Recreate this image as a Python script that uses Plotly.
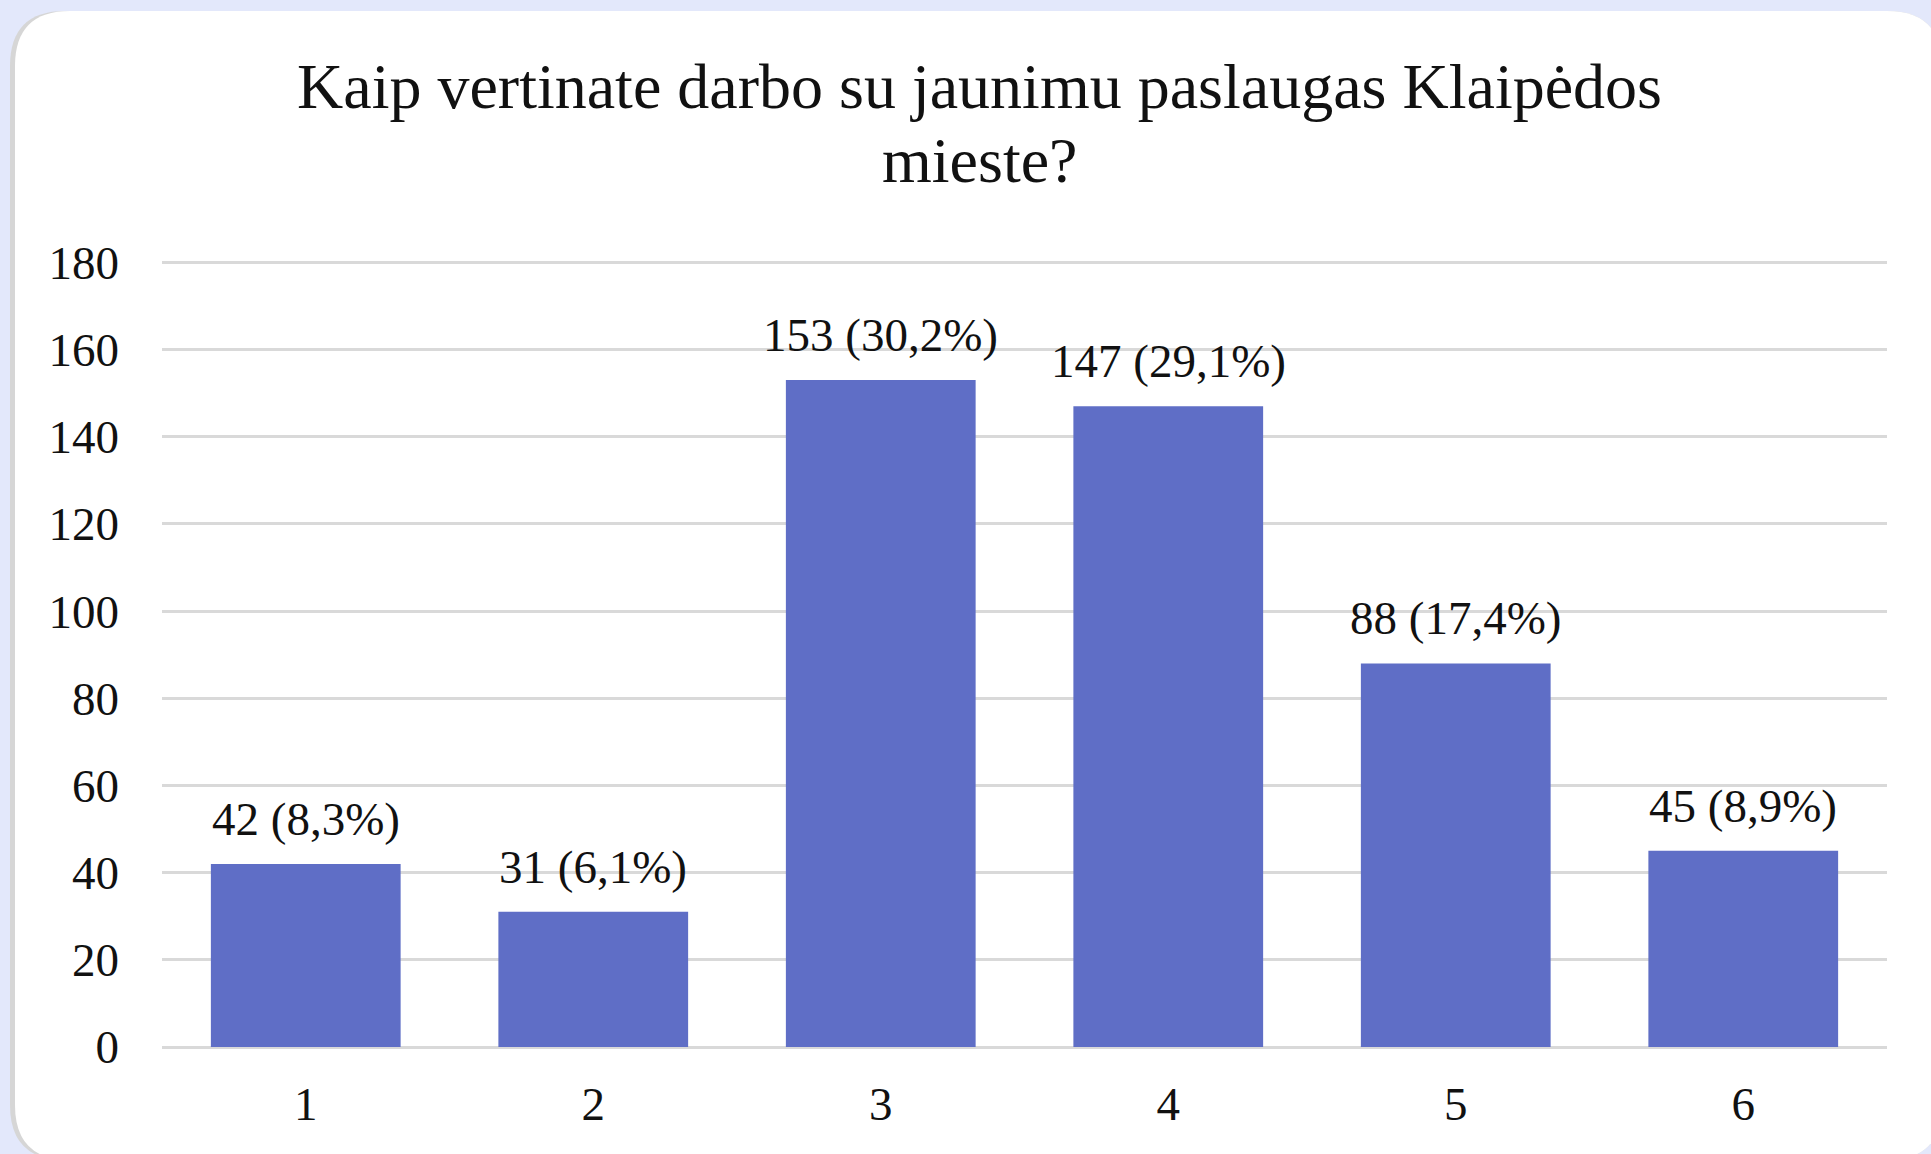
import plotly.graph_objects as go

categories = ["1", "2", "3", "4", "5", "6"]
counts = [42, 31, 153, 147, 88, 45]
percents = ["8,3%", "6,1%", "30,2%", "29,1%", "17,4%", "8,9%"]
y_ticks = [0, 20, 40, 60, 80, 100, 120, 140, 160, 180]

title_lines = ["Kaip vertinate darbo su jaunimu paslaugas Klaipėdos", "mieste?"]

W, H = 1931, 1154
L, R, T, B = 162, 44, 258, 107
PW, PH = W - L - R, H - T - B
FONT = "Liberation Serif, Times New Roman, serif"
INK = "#111111"


def px(x, y):
    # pixel -> paper coordinates of the plot area
    return (x - L) / PW, ((H - B) - y) / PH


def rounded_rect(x0, y0, x1, y1, r):
    pts = [
        ("M", [(x0 + r, y0)]),
        ("L", [(x1 - r, y0)]),
        ("Q", [(x1, y0), (x1, y0 + r)]),
        ("L", [(x1, y1 - r)]),
        ("Q", [(x1, y1), (x1 - r, y1)]),
        ("L", [(x0 + r, y1)]),
        ("Q", [(x0, y1), (x0, y1 - r)]),
        ("L", [(x0, y0 + r)]),
        ("Q", [(x0, y0), (x0 + r, y0)]),
    ]
    out = []
    for cmd, coords in pts:
        parts = []
        for x, y in coords:
            a, b = px(x, y)
            parts.append(f"{a:.5f},{b:.5f}")
        out.append(cmd + " ".join(parts))
    return " ".join(out) + " Z"


labels = [f"{c} ({p})" for c, p in zip(counts, percents)]

fig = go.Figure()
fig.add_trace(go.Bar(
    x=categories,
    y=counts,
    marker=dict(color="#5F6EC6", line=dict(width=0)),
    hoverinfo="skip",
))

# value labels above bars (category index used as x position)
for i, (val, lab) in enumerate(zip(counts, labels)):
    fig.add_annotation(
        x=i, y=val, text=lab, showarrow=False,
        yanchor="bottom", yshift=17,
        font=dict(family=FONT, size=47, color=INK),
    )

# two-line title
for line, ypix in zip(title_lines, [86, 160]):
    tx, ty = px(979, ypix)
    fig.add_annotation(
        x=tx, y=ty, xref="paper", yref="paper", text=line, showarrow=False,
        xanchor="center", yanchor="middle",
        font=dict(family=FONT, size=64, color=INK),
    )

fig.add_shape(type="path", xref="paper", yref="paper", layer="below",
              path=rounded_rect(10, 11, 1942, 1160, 55),
              fillcolor="#D6D6D6", line=dict(width=0))
fig.add_shape(type="path", xref="paper", yref="paper", layer="below",
              path=rounded_rect(15, 11, 1942, 1160, 55),
              fillcolor="white", line=dict(width=0))

fig.update_layout(
    width=W, height=H,
    margin=dict(l=L, r=R, t=T, b=B, pad=0),
    paper_bgcolor="#E3E8FB",
    plot_bgcolor="rgba(0,0,0,0)",
    showlegend=False,
    bargap=0.34,
    font=dict(family=FONT, size=47, color=INK),
    xaxis=dict(
        type="category", range=[-0.5, 5.5],
        showgrid=False, showline=False, zeroline=False,
        ticks="", ticklabelstandoff=25,
        tickfont=dict(family=FONT, size=47, color=INK),
    ),
    yaxis=dict(
        range=[0, 181],
        tickvals=y_ticks,
        showgrid=True, gridcolor="#D9D9D9", gridwidth=3,
        zeroline=True, zerolinecolor="#D9D9D9", zerolinewidth=3,
        showline=False, ticks="", ticklabelstandoff=42,
        tickfont=dict(family=FONT, size=47, color=INK),
    ),
)

fig.write_html(
    "out.html",
    config={"displayModeBar": False},
    post_script="document.body.style.margin='0';document.body.style.background='#E3E8FB';",
)
